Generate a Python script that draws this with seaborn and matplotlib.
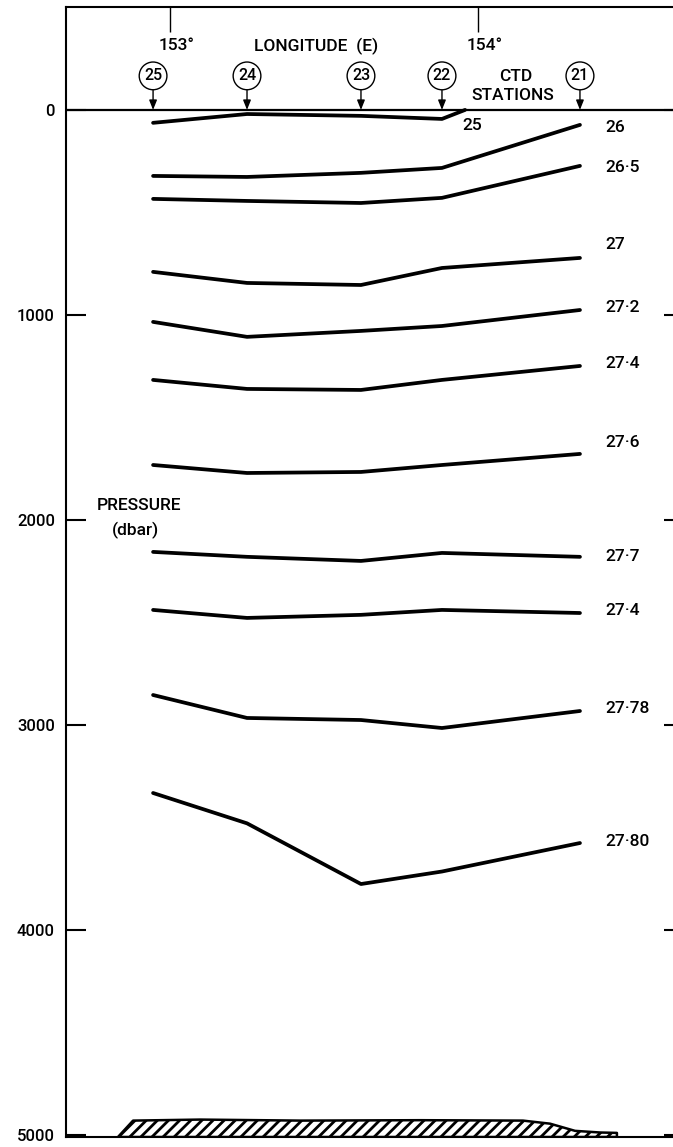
import pandas as pd
import matplotlib
matplotlib.use("Agg")
import matplotlib.pyplot as plt
import seaborn as sns

# CTD stations (left to right as drawn) and their longitudes
stations = [25, 24, 23, 22, 21]
station_lon = [152.945, 153.25, 153.62, 153.883, 154.331]

# isopycnal 25 only reaches the surface just east of station 22
lon_25 = [152.945, 153.25, 153.62, 153.883, 153.958]
p_25 = [63, 20, 29, 44, 0]

# pressure (dbar) of each isopycnal at stations 25..21
p_26 = [322, 327, 307, 283, 73]
p_265 = [434, 444, 454, 429, 273]
p_27 = [790, 844, 854, 771, 722]
p_272 = [1034, 1107, 1078, 1054, 976]
p_274 = [1317, 1361, 1366, 1317, 1249]
p_276 = [1732, 1771, 1766, 1732, 1678]
p_277 = [2156, 2180, 2200, 2161, 2180]
p_274b = [2439, 2478, 2463, 2439, 2454]
p_2778 = [2854, 2966, 2976, 3015, 2932]
p_2780 = [3332, 3480, 3776, 3715, 3576]

iso_labels = ["26", "26·5", "27", "27·2", "27·4", "27·6", "27·7", "27·4", "27·78", "27·80"]
iso_values = [p_26, p_265, p_27, p_272, p_274, p_276, p_277, p_274b, p_2778, p_2780]

# sea floor outline
bottom_lon = [152.831, 152.880, 153.097, 153.422, 153.812, 154.146, 154.234, 154.315, 154.396, 154.451]
bottom_p = [5010, 4930, 4925, 4930, 4928, 4930, 4945, 4980, 4988, 4990]

lon_ticks = [153, 154]
p_ticks = [0, 1000, 2000, 3000, 4000, 5000]

# label offsets from line ends (points)
label_dy = [-2, -1.5, 10, 2, 2, 8, 0, 1.5, 2, 1]

# long-format table for seaborn
rows = []
for i, pv in enumerate(iso_values):
    for lon, p in zip(station_lon, pv):
        rows.append({"iso": i, "lon": lon, "p": p})
for lon, p in zip(lon_25, p_25):
    rows.append({"iso": -1, "lon": lon, "p": p})
df = pd.DataFrame(rows)

sns.set_theme(style="white")
plt.rcParams["font.family"] = ["Roboto", "DejaVu Sans"]
plt.rcParams["font.weight"] = "medium"
plt.rcParams["text.color"] = "black"
plt.rcParams["hatch.linewidth"] = 2.0

fig = plt.figure(figsize=(6.73, 11.47), dpi=100)
ax = fig.add_axes([66 / 673, 10 / 1147, 618 / 673, 1130 / 1147])

sns.lineplot(data=df, x="lon", y="p", units="iso", estimator=None, sort=False,
             color="black", lw=2.7, legend=False, ax=ax)

ax.axhline(0, color="black", lw=1.6, zorder=3)

# sea floor
ax.fill_between(bottom_lon, bottom_p, 5010, facecolor="white", edgecolor="black",
                hatch="///", lw=1.8, zorder=2)

ax.set_xlim(152.6623, 154.6688)
ax.set_ylim(5010, -502)

ax.set_xticks(lon_ticks)
ax.set_yticks(p_ticks)
ax.set_yticklabels([str(t) for t in p_ticks])
ax.tick_params(axis="x", bottom=False, top=True, direction="in", length=18, width=1,
               labelbottom=False, labeltop=False, color="black")
ax.tick_params(axis="y", left=True, right=True, direction="in", length=14.4, width=1.5,
               pad=8, labelsize=12, labelcolor="black", color="black")
ax.set_xlabel("")
ax.set_ylabel("")
for side in ["left", "top", "bottom"]:
    ax.spines[side].set_color("black")
    ax.spines[side].set_linewidth(1.5)
ax.spines["right"].set_visible(False)

# longitude labels
for t in lon_ticks:
    ax.text(t + 0.022, -312, f"{t}°", ha="center", va="center", fontsize=12.5)
ax.text(153.474, -310, "LONGITUDE  (E)", ha="center", va="center", fontsize=12.5)

# station markers
for s, lon in zip(stations, station_lon):
    ax.annotate(str(s), xy=(lon, 0), xytext=(lon, -166), ha="center", va="center",
                fontsize=11.5,
                bbox=dict(boxstyle="circle,pad=0.3", fc="white", ec="black", lw=1),
                arrowprops=dict(arrowstyle="-|>,head_length=0.5,head_width=0.2",
                                color="black", lw=1, shrinkA=0, shrinkB=0))
ax.text(154.123, -161, "CTD", ha="center", va="center", fontsize=12.5)
ax.text(154.114, -68, "STATIONS", ha="center", va="center", fontsize=12.5)

# isopycnal labels
ax.annotate("25", xy=(lon_25[-1], p_25[-1]), xytext=(-2, -11.5), textcoords="offset points",
            ha="left", va="center", fontsize=12.5)
for lab, pv, dy in zip(iso_labels, iso_values, label_dy):
    ax.annotate(lab, xy=(station_lon[-1], pv[-1]), xytext=(18, dy),
                textcoords="offset points", ha="left", va="center", fontsize=12.5)

# axis title
ax.text(152.900, 1930, "PRESSURE", ha="center", va="center", fontsize=12.5)
ax.text(152.888, 2050, "(dbar)", ha="center", va="center", fontsize=12.5)

fig.savefig("out.png", dpi=100)
